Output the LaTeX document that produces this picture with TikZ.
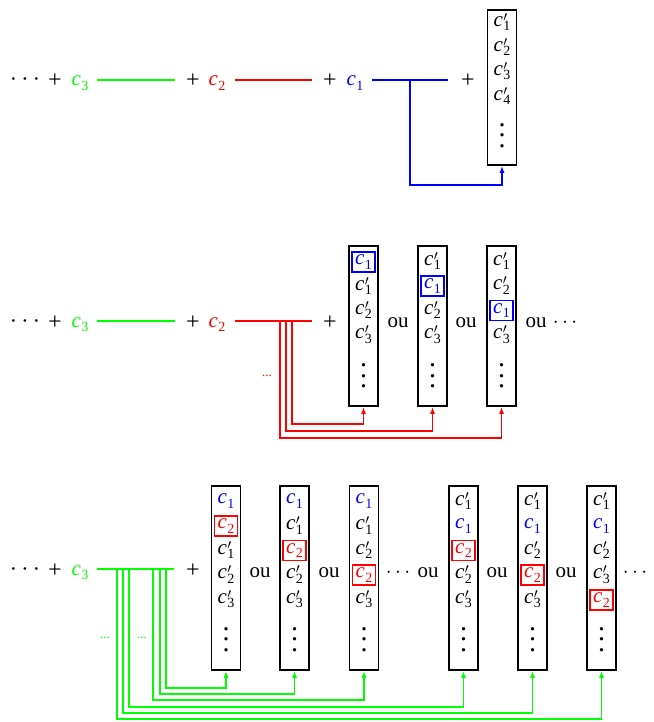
\RequirePackage{fix-cm}
\documentclass[tikz,border=0pt]{standalone}
\usepackage{fontspec}
\setmainfont{Liberation Serif}
\usetikzlibrary{arrows.meta}
\definecolor{G}{RGB}{0,255,0}
\definecolor{R}{RGB}{255,0,0}
\definecolor{B}{RGB}{0,0,255}
\newcommand\onedot{\hbox{\raisebox{0pt}[3pt][0pt]{.}}}
\newcommand\myvd{{\fontsize{28}{28}\selectfont\vbox{\baselineskip=10.5pt\lineskiplimit=-20pt\onedot\onedot\onedot}}}
\newcommand\pl{{\fontsize{24}{24}\selectfont +}}
\newcommand\cc[1]{\textit{c}\kern0.3pt\raisebox{-4.5pt}{\fontsize{14}{14}\selectfont #1}}
\newcommand\cp[1]{\textit{c}\kern0.3pt\rlap{\raisebox{5pt}{\fontsize{14}{14}\selectfont$\prime$}}\raisebox{-4.5pt}{\fontsize{14}{14}\selectfont #1}}
\begin{document}
\begin{tikzpicture}[x=1pt,y=-1pt,
  every node/.style={font=\fontsize{21}{24}\selectfont, inner sep=0pt},
  colbox/.style={draw, line width=1.6pt, minimum width=29pt},
  hb/.style={draw=B, text=B, line width=1.3pt, minimum width=23pt, minimum height=20pt},
  hr/.style={draw=R, text=R, line width=1.3pt, minimum width=23pt, minimum height=20pt},
  rowtxt/.style={anchor=base},
  bigdots/.style={anchor=base, font=\fontsize{26}{26}\selectfont},
  smalldots/.style={font=\fontsize{13}{13}\selectfont},
  conn/.style={line width=1.7pt, -{Latex[length=7pt,width=5pt]}},
  mainthin/.style={line width=1.8pt},
  mainthick/.style={line width=2.3pt}]
\useasboundingbox (0,0) rectangle (653,722);

% ---------------- top row ----------------
\node[bigdots] (d1) at (25,86) {$\cdots$};
\node[rowtxt] (p1a) at (55,88) {\pl};
\node[rowtxt, text=G] (c3a) at (80,86) {\cc{3}};
\node[rowtxt] (p1b) at (193,88) {\pl};
\node[rowtxt, text=R] (c2a) at (217,86) {\cc{2}};
\node[rowtxt] (p1c) at (330,88) {\pl};
\node[rowtxt, text=B] (c1a) at (355,86) {\cc{1}};
\node[rowtxt] (p1d) at (468,88) {\pl};
\draw[mainthin, G] (97,80) -- (175,80);
\draw[mainthin, R] (235,80) -- (312,80);
\draw[mainthin, B] (372,80) -- (448,80);

\node[colbox, minimum height=155pt] (A) at (502,87.5) {};
\node (A1) at (502,22) {\cp{1}};
\node (A2) at (502,47) {\cp{2}};
\node (A3) at (502,71) {\cp{3}};
\node (A4) at (502,96) {\cp{4}};
\node (A5) at (502,135.5) {\myvd};
\coordinate (t1) at (410,80);
\draw[conn, B] (t1) -- (t1 |- 0,185) -| (A.south);

% ---------------- middle row ----------------
\node[bigdots] (d2) at (25,327) {$\cdots$};
\node[rowtxt] (p2a) at (55,329) {\pl};
\node[rowtxt, text=G] (c3b) at (80,327) {\cc{3}};
\node[rowtxt] (p2b) at (193,329) {\pl};
\node[rowtxt, text=R] (c2b) at (217,327) {\cc{2}};
\node[rowtxt] (p2c) at (330,329) {\pl};
\draw[mainthick, G] (97,321) -- (175,321);
\draw[mainthick, R] (235,321) -- (312,321);

\node[colbox, minimum height=160pt] (M1) at (363.5,326) {};
\node[hb] (M11) at (363.5,262) {\cc{1}};
\node (M12) at (363.5,286) {\cp{1}};
\node (M13) at (363.5,310) {\cp{2}};
\node (M14) at (363.5,334.5) {\cp{3}};
\node (M15) at (363.5,375.5) {\myvd};
\node[rowtxt] (o21) at (398,327) {ou};
\node[colbox, minimum height=160pt] (M2) at (432.5,326) {};
\node (M21) at (432.5,261) {\cp{1}};
\node[hb] (M22) at (432.5,286) {\cc{1}};
\node (M23) at (432.5,310) {\cp{2}};
\node (M24) at (432.5,334.5) {\cp{3}};
\node (M25) at (432.5,375.5) {\myvd};
\node[rowtxt] (o22) at (466,327) {ou};
\node[colbox, minimum height=160pt] (M3) at (501.5,326) {};
\node (M31) at (501.5,261) {\cp{1}};
\node (M32) at (501.5,285.5) {\cp{2}};
\node[hb] (M33) at (501.5,310.5) {\cc{1}};
\node (M34) at (501.5,334.5) {\cp{3}};
\node (M35) at (501.5,375.5) {\myvd};
\node[rowtxt] (o23) at (536,327) {ou};
\node[rowtxt] (d23) at (565,327) {$\cdots$};
\node[smalldots, text=R] (rd) at (267,376) {...};

\coordinate (r1) at (292,321);
\coordinate (r2) at (286,321);
\coordinate (r3) at (280,321);
\draw[conn, R] (r1) -- (r1 |- 0,424) -| (M1.south);
\draw[conn, R] (r2) -- (r2 |- 0,431) -| (M2.south);
\draw[conn, R] (r3) -- (r3 |- 0,438) -| (M3.south);

% ---------------- bottom row ----------------
\node[bigdots] (d3) at (25,575) {$\cdots$};
\node[rowtxt] (p3a) at (55,577) {\pl};
\node[rowtxt, text=G] (c3c) at (80,575) {\cc{3}};
\node[rowtxt] (p3b) at (193,577) {\pl};
\draw[mainthick, G] (97,569) -- (174,569);

\node[colbox, minimum height=184pt] (B1) at (226,578) {};
\node[text=B] (B11) at (226,501) {\cc{1}};
\node[hr] (B12) at (226,526) {\cc{2}};
\node (B13) at (226,550) {\cp{1}};
\node (B14) at (226,574.5) {\cp{2}};
\node (B15) at (226,599) {\cp{3}};
\node (B16) at (226,639) {\myvd};
\node[rowtxt] (o31) at (260,577) {ou};

\node[colbox, minimum height=184pt] (B2) at (294.5,578) {};
\node[text=B] (B21) at (294.5,501) {\cc{1}};
\node (B22) at (294.5,525.5) {\cp{1}};
\node[hr] (B23) at (294.5,550.5) {\cc{2}};
\node (B24) at (294.5,574.5) {\cp{2}};
\node (B25) at (294.5,599) {\cp{3}};
\node (B26) at (294.5,639) {\myvd};
\node[rowtxt] (o32) at (329,577) {ou};

\node[colbox, minimum height=184pt] (B3) at (364,578) {};
\node[text=B] (B31) at (364,501) {\cc{1}};
\node (B32) at (364,525.5) {\cp{1}};
\node (B33) at (364,550) {\cp{2}};
\node[hr] (B34) at (364,575) {\cc{2}};
\node (B35) at (364,599) {\cp{3}};
\node (B36) at (364,639) {\myvd};
\node[rowtxt] (d33) at (398,577) {$\cdots$};
\node[rowtxt] (o33) at (428,577) {ou};

\node[colbox, minimum height=184pt] (B4) at (463.5,578) {};
\node (B41) at (463.5,501) {\cp{1}};
\node[text=B] (B42) at (463.5,526) {\cc{1}};
\node[hr] (B43) at (463.5,550.5) {\cc{2}};
\node (B44) at (463.5,574.5) {\cp{2}};
\node (B45) at (463.5,599) {\cp{3}};
\node (B46) at (463.5,639) {\myvd};
\node[rowtxt] (o34) at (497,577) {ou};

\node[colbox, minimum height=184pt] (B5) at (532.5,578) {};
\node (B51) at (532.5,501) {\cp{1}};
\node[text=B] (B52) at (532.5,526) {\cc{1}};
\node (B53) at (532.5,550) {\cp{2}};
\node[hr] (B54) at (532.5,575) {\cc{2}};
\node (B55) at (532.5,599) {\cp{3}};
\node (B56) at (532.5,639) {\myvd};
\node[rowtxt] (o35) at (566,577) {ou};

\node[colbox, minimum height=184pt] (B6) at (601.5,578) {};
\node (B61) at (601.5,501) {\cp{1}};
\node[text=B] (B62) at (601.5,526) {\cc{1}};
\node (B63) at (601.5,550) {\cp{2}};
\node (B64) at (601.5,574.5) {\cp{3}};
\node[hr] (B65) at (601.5,600) {\cc{2}};
\node (B66) at (601.5,639) {\myvd};
\node[rowtxt] (d36) at (635,577) {$\cdots$};

\node[smalldots, text=G] (gd1) at (105,638) {...};
\node[smalldots, text=G] (gd2) at (142,638) {...};

\coordinate (g1) at (166,569);
\coordinate (g2) at (160,569);
\coordinate (g3) at (153,569);
\coordinate (g4) at (129,569);
\coordinate (g5) at (123,569);
\coordinate (g6) at (117,569);
\draw[conn, G] (g1) -- (g1 |- 0,688) -| (B1.south);
\draw[conn, G] (g2) -- (g2 |- 0,694) -| (B2.south);
\draw[conn, G] (g3) -- (g3 |- 0,700) -| (B3.south);
\draw[conn, G] (g4) -- (g4 |- 0,707) -| (B4.south);
\draw[conn, G] (g5) -- (g5 |- 0,713) -| (B5.south);
\draw[conn, G] (g6) -- (g6 |- 0,719) -| (B6.south);
\end{tikzpicture}
\end{document}
